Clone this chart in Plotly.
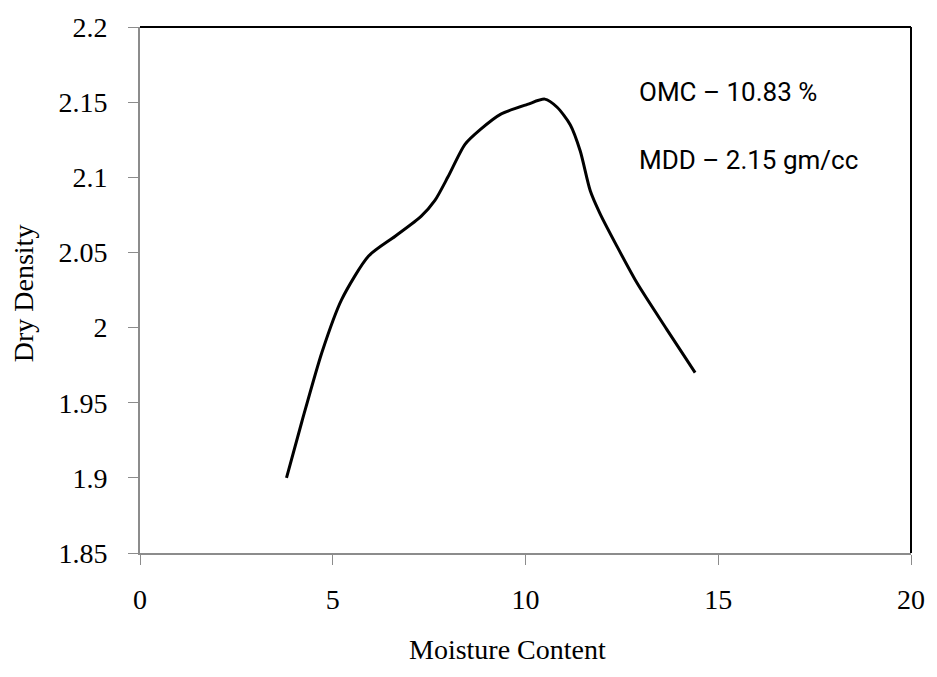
import plotly.graph_objects as go

moisture = [3.8, 4.2, 4.72, 5.23, 5.93, 6.62, 7.29, 7.65, 7.99, 8.43, 8.84, 9.36, 10.05, 10.5,
            10.82, 11.16, 11.42, 11.68, 11.93, 12.37, 12.89, 13.66, 14.4]
dry_density = [1.9, 1.9375, 1.9836, 2.0186, 2.0476, 2.0608, 2.074, 2.0846, 2.1003, 2.1219, 2.132,
               2.142, 2.1485, 2.152, 2.1466, 2.135, 2.1175, 2.091, 2.076, 2.0542, 2.0298, 1.999, 1.97]

x_ticks = [0, 5, 10, 15, 20]
y_ticks = [1.85, 1.9, 1.95, 2, 2.05, 2.1, 2.15, 2.2]
y_tick_labels = ["1.85", "1.9", "1.95", "2", "2.05", "2.1", "2.15", "2.2"]

x_title = "Moisture Content"
y_title = "Dry Density"
notes = ["OMC – 10.83 %", "MDD – 2.15 gm/cc"]

serif = "Liberation Serif, Times New Roman, serif"
sans = "Roboto, Liberation Sans, Arial, sans-serif"

fig = go.Figure()
fig.add_trace(go.Scatter(
    x=moisture, y=dry_density, mode="lines",
    line=dict(color="black", width=3, shape="spline", smoothing=0.7),
    showlegend=False, hoverinfo="skip",
))

fig.update_layout(
    width=937, height=677,
    margin=dict(l=140, r=21, t=22, b=124),
    paper_bgcolor="white", plot_bgcolor="white",
    font=dict(family=serif, size=28, color="black"),
    xaxis=dict(
        range=[0, 20], tickvals=x_ticks, showgrid=False, zeroline=False,
        showline=True, linecolor="#8c8c8c", linewidth=2,
        ticks="outside", ticklen=10, tickcolor="#8c8c8c", tickwidth=1,
        ticklabelstandoff=10,
        tickfont=dict(family=serif, size=28),
    ),
    yaxis=dict(
        range=[1.85, 2.2], tickvals=y_ticks, ticktext=y_tick_labels,
        showgrid=False, zeroline=False,
        showline=True, linecolor="#8c8c8c", linewidth=2,
        ticks="outside", ticklen=10, tickcolor="#8c8c8c", tickwidth=1,
        ticklabelstandoff=15,
        tickfont=dict(family=serif, size=28),
    ),
)

# top and right border (black)
fig.add_shape(type="line", xref="paper", yref="paper", x0=0, x1=1, y0=1, y1=1,
              line=dict(color="black", width=2))
fig.add_shape(type="line", xref="paper", yref="paper", x0=1, x1=1, y0=0, y1=1,
              line=dict(color="black", width=2))

# axis titles
fig.add_annotation(x=0.477, y=-0.183, xref="paper", yref="paper", text=x_title, showarrow=False,
                   xanchor="center", yanchor="middle", font=dict(family=serif, size=28, color="black"))
fig.add_annotation(x=-0.151, y=0.493, xref="paper", yref="paper", text=y_title, showarrow=False,
                   textangle=-90, xanchor="center", yanchor="middle",
                   font=dict(family=serif, size=28, color="black"))

fig.add_annotation(x=12.9, y=2.157, xref="x", yref="y", text=notes[0], showarrow=False,
                   xanchor="left", yanchor="middle", font=dict(family=sans, size=26, color="black"))
fig.add_annotation(x=12.9, y=2.1115, xref="x", yref="y", text=notes[1], showarrow=False,
                   xanchor="left", yanchor="middle", font=dict(family=sans, size=26, color="black"))

fig.write_html("out.html", config={"displayModeBar": False},
               post_script="document.body.style.margin='0';document.body.style.overflow='hidden';")
